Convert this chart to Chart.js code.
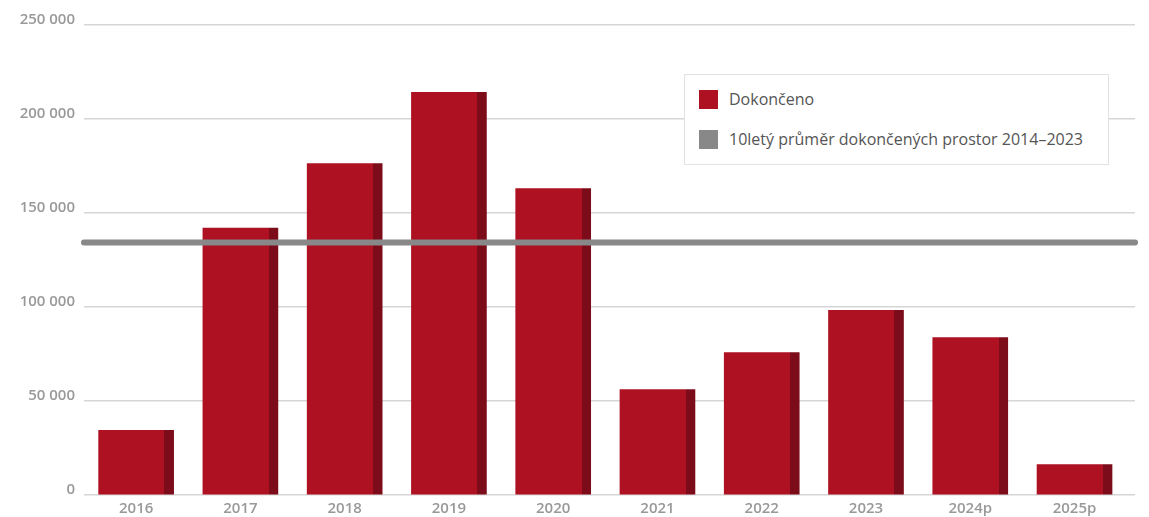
<!DOCTYPE html>
<html>
<head>
<meta charset="utf-8">
<script src="https://cdn.jsdelivr.net/npm/chart.js@4.4.1/dist/chart.umd.min.js"></script>
<style>
  html, body { margin: 0; padding: 0; background: #fff; }
  #wrap { position: relative; width: 1149px; height: 517px; }
  #legend {
    position: absolute; left: 684px; top: 74px; width: 423px; height: 89px;
    border: 1px solid #e2e2e2; background: #fff;
    font-family: "Open Sans", sans-serif; font-size: 16px; color: #555;
  }
  .item { position: absolute; left: 14px; height: 20px; display: flex; align-items: center; white-space: nowrap; }
  .sw { width: 19px; height: 19px; margin-right: 11px; flex: none; }
</style>
</head>
<body>
<div id="wrap">
  <canvas id="c" width="1149" height="517"></canvas>
  <div id="legend"></div>
</div>
<script>
const categories = ['2016', '2017', '2018', '2019', '2020', '2021', '2022', '2023', '2024p', '2025p'];
const completed = [34400, 142000, 176300, 214200, 163000, 56100, 75700, 98200, 83700, 16200];
const average10y = 134300;
const yTickValues = [0, 50000, 100000, 150000, 200000, 250000];
const seriesNames = ['Dokončeno', '10letý průměr dokončených prostor 2014–2023'];

const MAIN = '#ad1122';
const DARK = '#7c0c19';
const GREY = '#888888';
const BAR_W = 75;
const X_MIN = -0.5, X_MAX = 9.58;

function fmt(v) { return String(v).replace(/\B(?=(\d{3})+(?!\d))/g, ' '); }

function barFill(ctx) {
  const chart = ctx.chart;
  const xs = chart.scales && chart.scales.x;
  if (!xs || !chart.chartArea || ctx.type !== 'data') return MAIN;
  const cx = xs.getPixelForValue(ctx.dataIndex);
  if (!isFinite(cx)) return MAIN;
  const g = chart.ctx.createLinearGradient(cx - BAR_W / 2, 0, cx + BAR_W / 2, 0);
  g.addColorStop(0, MAIN);
  g.addColorStop(0.878, MAIN);
  g.addColorStop(0.878, DARK);
  g.addColorStop(1, DARK);
  return g;
}

const tickFont = { family: 'Open Sans', size: 15, weight: '600' };

new Chart(document.getElementById('c'), {
  data: {
    datasets: [
      {
        type: 'line',
        label: seriesNames[1],
        data: [{ x: X_MIN, y: average10y }, { x: X_MAX, y: average10y }],
        borderColor: GREY,
        borderWidth: 6,
        borderCapStyle: 'round',
        pointRadius: 0,
        clip: false,
        order: 0
      },
      {
        type: 'bar',
        label: seriesNames[0],
        data: completed.map((v, i) => ({ x: i, y: v })),
        backgroundColor: barFill,
        barThickness: BAR_W,
        borderWidth: 0,
        order: 1
      }
    ]
  },
  options: {
    responsive: false,
    devicePixelRatio: 1,
    animation: false,
    events: [],
    layout: { padding: { top: 25, right: 14, left: 0, bottom: 0 } },
    plugins: { legend: { display: false }, tooltip: { enabled: false } },
    scales: {
      x: {
        type: 'linear',
        offset: false,
        min: X_MIN,
        max: X_MAX,
        afterBuildTicks: axis => { axis.ticks = categories.map((c, i) => ({ value: i })); },
        afterFit: s => { s.height = 22; },
        grid: { display: false, drawTicks: false },
        border: { display: false },
        ticks: {
          autoSkip: false,
          maxRotation: 0,
          padding: 5,
          color: '#999999',
          font: tickFont,
          callback: v => categories[v]
        }
      },
      y: {
        min: 0,
        max: 250000,
        afterBuildTicks: axis => { axis.ticks = yTickValues.map(v => ({ value: v })); },
        afterFit: s => { s.width = 84; },
        grid: { color: '#d6d6d6', lineWidth: 1.5, drawTicks: false },
        border: { display: false },
        ticks: {
          padding: 9,
          labelOffset: -5,
          color: '#999999',
          font: tickFont,
          callback: v => fmt(v)
        }
      }
    }
  }
});

const legend = document.getElementById('legend');
[[seriesNames[0], MAIN, 14], [seriesNames[1], GREY, 54]].forEach(([name, col, top]) => {
  const it = document.createElement('div');
  it.className = 'item';
  it.style.top = top + 'px';
  const sw = document.createElement('span');
  sw.className = 'sw';
  sw.style.background = col;
  const tx = document.createElement('span');
  tx.textContent = name;
  it.appendChild(sw);
  it.appendChild(tx);
  legend.appendChild(it);
});
</script>
</body>
</html>
